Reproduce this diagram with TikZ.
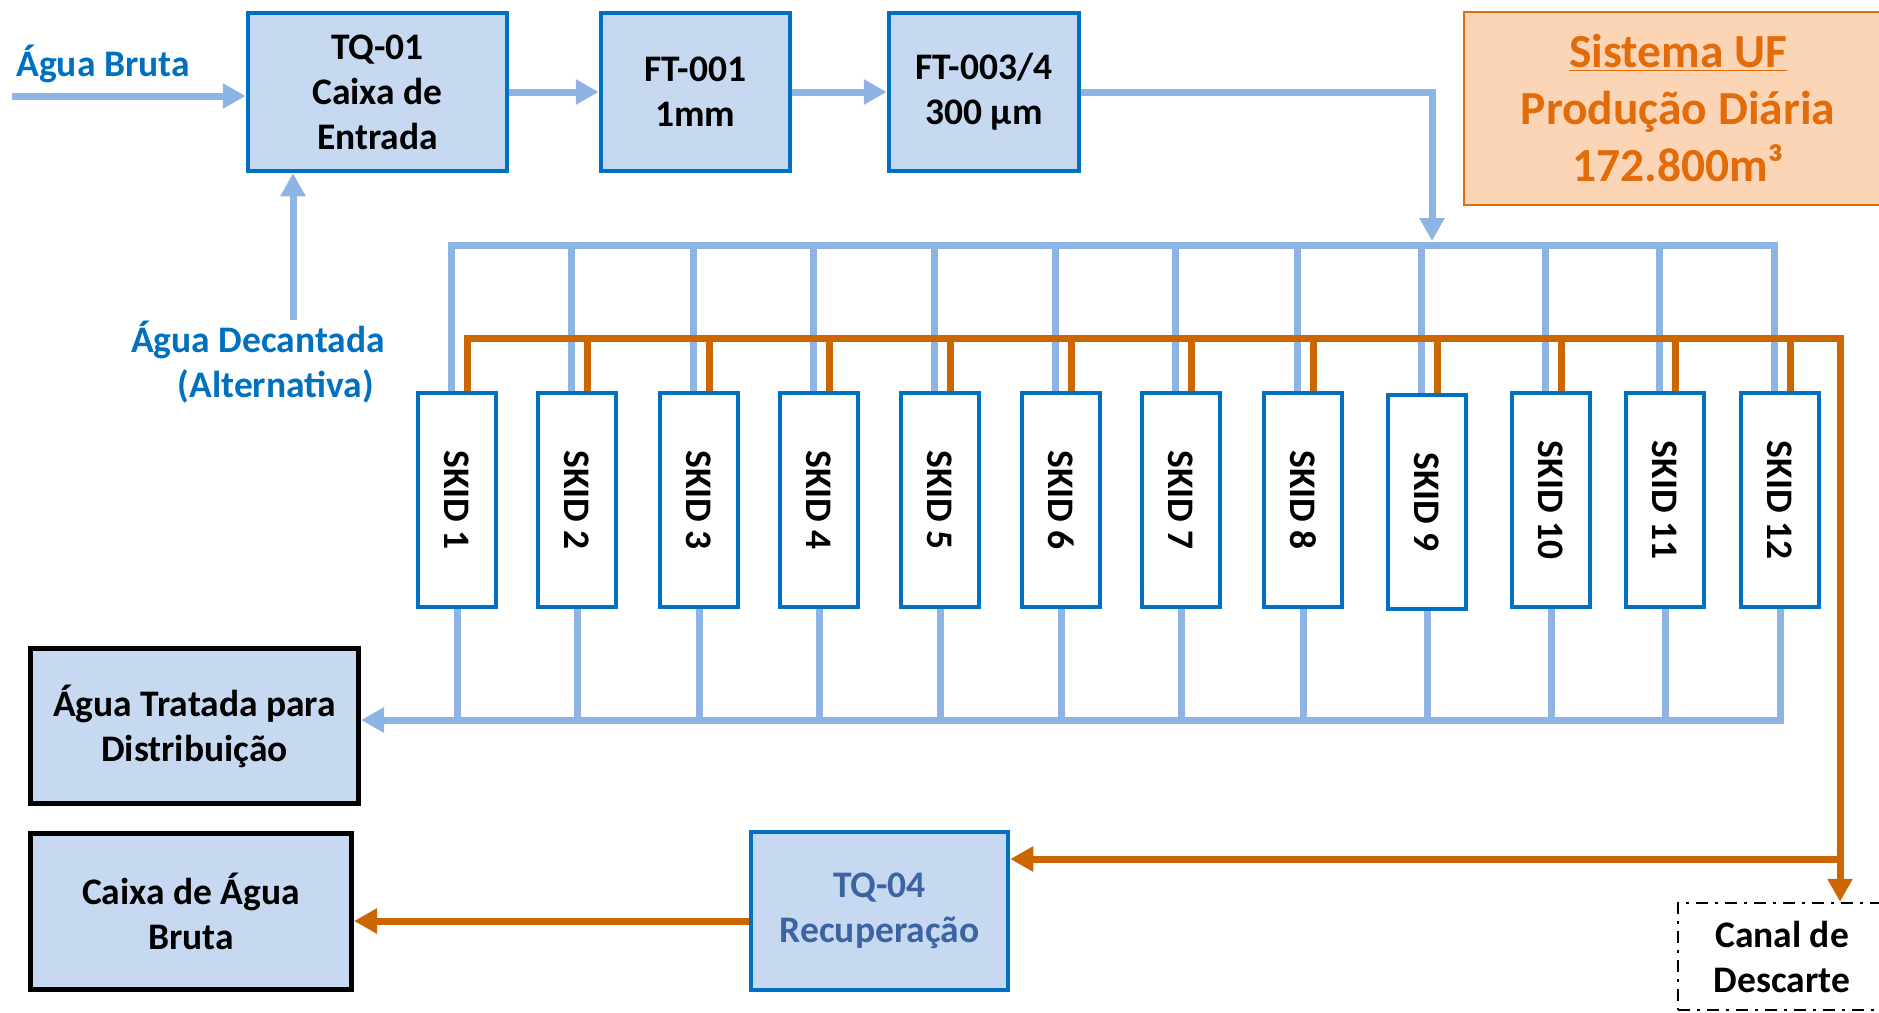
\documentclass[tikz,border=0pt]{standalone}
\usepackage{fontspec}
\usepackage{graphicx}
\setmainfont{Carlito}
\usetikzlibrary{arrows.meta,calc}
\definecolor{lblue}{HTML}{8EB4E3}
\definecolor{bfill}{HTML}{C6D9F1}
\definecolor{bdark}{HTML}{0070C0}
\definecolor{orng}{HTML}{CC6600}
\definecolor{ofill}{HTML}{FBD5B5}
\definecolor{otext}{HTML}{E36C0A}
\definecolor{tqtext}{HTML}{3B64A0}
\begin{document}
\begin{tikzpicture}[x=1pt,y=-1pt,
  every node/.style={font=\fontsize{37.5}{45}\selectfont\bfseries, inner sep=0pt, align=center},
  procbox/.style={draw=bdark, line width=4.5pt, fill=bfill, rectangle},
  endbox/.style={draw=black, line width=5pt, fill=bfill, rectangle},
  skidbox/.style={draw=bdark, line width=4.5pt, fill=white, rectangle, minimum width=78pt, minimum height=214pt},
  bpipe/.style={draw=lblue, line width=7pt},
  opipe/.style={draw=orng, line width=7pt},
  bflow/.style={bpipe, -{Triangle[length=23pt,width=24pt]}},
  oflow/.style={opipe, -{Triangle[length=23pt,width=24pt]}},
  lbl/.style={text=bdark}
]
\useasboundingbox (0,0) rectangle (1879,1012);
\clip (0,0) rectangle (1879,1012);

% top row
\node[procbox, minimum width=259pt, minimum height=158pt] (tq01) at (377.5,92) {TQ-01\\Caixa de\\Entrada};
\node[procbox, minimum width=189pt, minimum height=158pt] (ft001) at (695.5,92) {FT-001\\1mm};
\node[procbox, minimum width=190pt, minimum height=158pt] (ft003) at (984,92) {FT-003/4\\300 µm};
\node[draw=otext, line width=2pt, fill=ofill, minimum width=428pt, minimum height=193pt, text=otext,
      font=\fontsize{47.5}{57}\selectfont\bfseries] (sis) at (1678,108.5) {\underline{Sistema UF}\\Produção Diária\\172.800m³};

\node[lbl] (bruta) at (103,64) {Água Bruta};
\node[lbl, align=right, anchor=east] (decant) at (385,362) {Água Decantada\\(Alternativa)\hspace*{11pt}};

% skids
\foreach \i/\x/\y in {1/457/500, 2/577/500, 3/699/500, 4/819/500, 5/940/500, 6/1061/500,
                      7/1181/500, 8/1303/500, 9/1427/502, 10/1551/500, 11/1665/500, 12/1780/500} {
  \node[skidbox] (skid\i) at (\x,\y) {\rotatebox{-90}{SKID \i}};
  \coordinate (b\i) at ($(skid\i.north)+(-6,0)$);
  \coordinate (o\i) at ($(skid\i.north)+(10,0)$);
}

% bottom boxes
\node[endbox, minimum width=328pt, minimum height=155pt] (trat) at (194.5,726) {Água Tratada para\\Distribuição};
\node[endbox, minimum width=321pt, minimum height=156pt] (cab) at (191,911.5) {Caixa de Água\\Bruta};
\node[procbox, minimum width=257pt, minimum height=158pt, text=tqtext] (tq04) at (879.5,911) {TQ-04\\Recuperação};
\node[draw=black, line width=2.5pt, dash pattern=on 12pt off 7pt on 3pt off 7pt,
      minimum width=208pt, minimum height=107pt] (canal) at (1782,956.5) {Canal de\\Descarte};

% inlet flows
\coordinate (inb) at (12,96);
\draw[bflow] (inb) -- (inb -| tq01.west);
\coordinate (decin) at (293,320);
\draw[bflow] (decin) -- (decin |- tq01.south);
\draw[bflow] (tq01.east) -- (ft001.west);
\draw[bflow] (ft001.east) -- (ft003.west);
\coordinate (jn) at (1432,241);
\draw[bflow] (ft003.east) -| (jn);

% blue distribution header
\coordinate (bhdr) at (0,245);
\draw[bpipe] (b1) |- (b12 |- bhdr) -- (b12);
\foreach \i in {2,...,11} { \draw[bpipe] (b\i |- bhdr) -- (b\i); }

% orange backwash header
\coordinate (ohdr) at (1840,338);
\draw[oflow] (o1) |- (ohdr) -- (ohdr |- canal.north);
\foreach \i in {2,...,12} { \draw[opipe] (o\i |- ohdr) -- (o\i); }
\coordinate (tq4in) at (1840,859);
\draw[oflow] (tq4in) -- (tq4in -| tq04.east);
\coordinate (tq4out) at ($(tq04.west)+(0,10)$);
\draw[oflow] (tq4out) -- (tq4out -| cab.east);

% permeate collection
\coordinate (chdr) at (0,720);
\draw[bflow] (skid12.south) |- (trat.east |- chdr);
\foreach \i in {1,...,11} { \draw[bpipe] (skid\i.south) -- (skid\i.south |- chdr); }
\end{tikzpicture}
\end{document}
